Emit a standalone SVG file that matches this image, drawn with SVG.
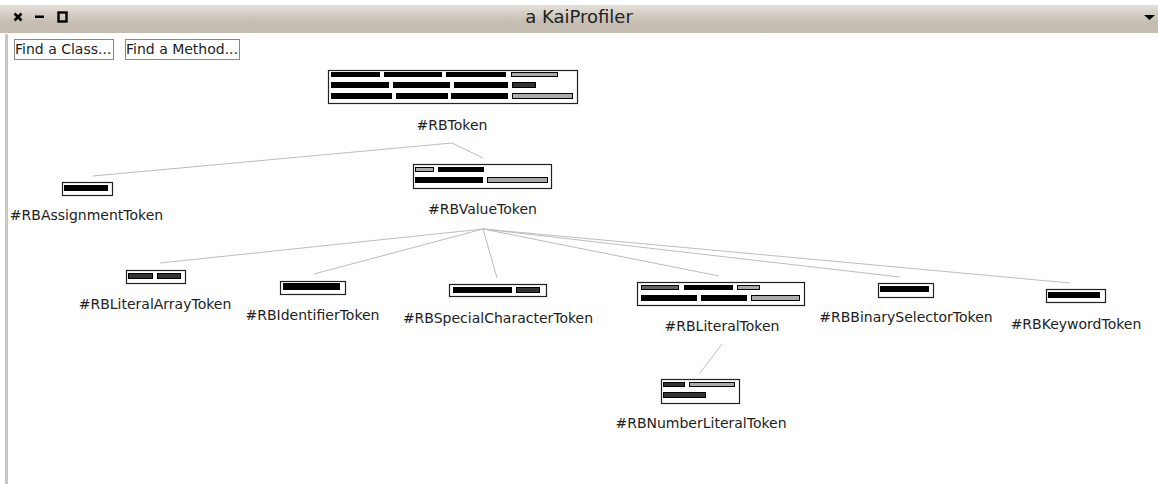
<svg xmlns="http://www.w3.org/2000/svg" width="1158" height="484" viewBox="0 0 1158 484">
  <defs>
    <linearGradient id="titleGrad" x1="0" y1="0" x2="0" y2="1">
      <stop offset="0" stop-color="#e4e0da"/>
      <stop offset="0.6" stop-color="#c6beb2"/>
      <stop offset="1" stop-color="#c4bcb0"/>
    </linearGradient>
  </defs>
  <style>
    .lbl { font-family: "DejaVu Sans", "Noto Sans", sans-serif; font-size: 14px; fill: #222; text-anchor: middle; }
    .btn { fill: #fff; stroke: #888; stroke-width: 1; }
    .btxt { font-family: "DejaVu Sans", "Noto Sans", sans-serif; font-size: 14px; fill: #222; }
    .box { fill: #fff; stroke: #222; stroke-width: 1.2; }
    .blk { fill: #000; stroke: #000; stroke-width: 1; }
    .dk { fill: #333; stroke: #000; stroke-width: 1; }
    .md { fill: #666; stroke: #000; stroke-width: 1; }
    .gr { fill: #aaa; stroke: #000; stroke-width: 1; }
    .edge { stroke: #bdbdbd; stroke-width: 1; fill: none; }
  </style>

  <!-- window frame -->
  <rect x="0" y="0" width="1158" height="484" fill="#fff"/>
  <rect x="0" y="5" width="1158" height="28" fill="url(#titleGrad)"/>
  <rect x="5" y="34" width="3" height="450" fill="#cdc6bb"/>
  <g id="title-controls" fill="#000" stroke="#000">
    <path d="M14.5 13.5 L21.5 20.5 M21.5 13.5 L14.5 20.5" stroke-width="2.6"/>
    <rect x="35" y="15.5" width="9" height="2.5" stroke="none"/>
    <rect x="58.5" y="12.5" width="8" height="9" fill="none" stroke-width="2.4"/>
    <path d="M1144 15 L1155 15 L1149.5 20 Z" stroke="none"/>
  </g>
  <text x="579" y="23" font-family="DejaVu Sans, sans-serif" font-size="18" fill="#222" text-anchor="middle">a KaiProfiler</text>

  <!-- search buttons -->
  <g id="find-class">
    <rect class="btn" x="14.5" y="39.5" width="99" height="20"/>
    <text class="btxt" x="15" y="54">Find a Class...</text>
  </g>
  <g id="find-method">
    <rect class="btn" x="125.5" y="39.5" width="114" height="20"/>
    <text class="btxt" x="126" y="54">Find a Method...</text>
  </g>

  <!-- hierarchy connectors -->
  <g id="connectors">
    <line class="edge" x1="452" y1="143" x2="93" y2="176"/>
    <line class="edge" x1="452" y1="143" x2="483" y2="158"/>
    <line class="edge" x1="483" y1="229" x2="160" y2="263"/>
    <line class="edge" x1="483" y1="229" x2="314" y2="274"/>
    <line class="edge" x1="483" y1="229" x2="497" y2="278"/>
    <line class="edge" x1="483" y1="229" x2="719" y2="276"/>
    <line class="edge" x1="483" y1="229" x2="900" y2="277"/>
    <line class="edge" x1="483" y1="229" x2="1070" y2="283"/>
    <line class="edge" x1="722" y1="344" x2="700" y2="373"/>
  </g>

  <g id="RBToken">
    <rect class="box" x="328.5" y="70.5" width="249" height="33"/>
    <rect class="blk" x="331.5" y="72.5" width="48" height="4"/>
    <rect class="blk" x="384.5" y="72.5" width="57" height="4"/>
    <rect class="blk" x="446.5" y="72.5" width="59" height="4"/>
    <rect class="gr" x="511.5" y="72.5" width="46" height="4"/>
    <rect class="blk" x="331.5" y="82.5" width="57" height="5"/>
    <rect class="blk" x="393.5" y="82.5" width="56" height="5"/>
    <rect class="blk" x="454.5" y="82.5" width="53" height="5"/>
    <rect class="dk" x="512.5" y="82.5" width="23" height="5"/>
    <rect class="blk" x="331.5" y="93.5" width="60" height="5"/>
    <rect class="blk" x="396.5" y="93.5" width="51" height="5"/>
    <rect class="blk" x="451.5" y="93.5" width="56" height="5"/>
    <rect class="gr" x="512.5" y="93.5" width="60" height="5"/>
    <text class="lbl" x="452" y="130">#RBToken</text>
  </g>

  <g id="RBAssignmentToken">
    <rect class="box" x="62.5" y="182.5" width="50" height="13"/>
    <rect class="blk" x="64.5" y="185.5" width="43" height="5"/>
    <text class="lbl" x="86.5" y="220">#RBAssignmentToken</text>
  </g>

  <g id="RBValueToken">
    <rect class="box" x="413.5" y="164.5" width="138" height="24"/>
    <rect class="gr" x="415.5" y="167.5" width="18" height="4"/>
    <rect class="blk" x="438.5" y="167.5" width="45" height="4"/>
    <rect class="blk" x="415.5" y="177.5" width="67" height="5"/>
    <rect class="gr" x="487.5" y="177.5" width="60" height="5"/>
    <text class="lbl" x="482.5" y="214">#RBValueToken</text>
  </g>

  <g id="RBLiteralArrayToken">
    <rect class="box" x="126.5" y="270.5" width="59" height="13"/>
    <rect class="dk" x="128.5" y="273.5" width="24" height="5"/>
    <rect class="dk" x="157.5" y="273.5" width="23" height="5"/>
    <text class="lbl" x="155" y="309">#RBLiteralArrayToken</text>
  </g>

  <g id="RBIdentifierToken">
    <rect class="box" x="280.5" y="281.5" width="65" height="13"/>
    <rect class="blk" x="283.5" y="283.5" width="56" height="6"/>
    <text class="lbl" x="312.5" y="320">#RBIdentifierToken</text>
  </g>

  <g id="RBSpecialCharacterToken">
    <rect class="box" x="449.5" y="284.5" width="97" height="12"/>
    <rect class="blk" x="453.5" y="287.5" width="58" height="5"/>
    <rect class="dk" x="516.5" y="287.5" width="23" height="5"/>
    <text class="lbl" x="498" y="323">#RBSpecialCharacterToken</text>
  </g>

  <g id="RBLiteralToken">
    <rect class="box" x="637.5" y="282.5" width="167" height="23"/>
    <rect class="md" x="641.5" y="285.5" width="37" height="4"/>
    <rect class="blk" x="684.5" y="285.5" width="48" height="4"/>
    <rect class="gr" x="737.5" y="285.5" width="22" height="4"/>
    <rect class="blk" x="641.5" y="295.5" width="55" height="5"/>
    <rect class="blk" x="701.5" y="295.5" width="45" height="5"/>
    <rect class="gr" x="751.5" y="295.5" width="48" height="5"/>
    <text class="lbl" x="722" y="331">#RBLiteralToken</text>
  </g>

  <g id="RBBinarySelectorToken">
    <rect class="box" x="878.5" y="283.5" width="55" height="14"/>
    <rect class="blk" x="880.5" y="286.5" width="48" height="5"/>
    <text class="lbl" x="906" y="322">#RBBinarySelectorToken</text>
  </g>

  <g id="RBKeywordToken">
    <rect class="box" x="1046.5" y="289.5" width="59" height="13"/>
    <rect class="blk" x="1048.5" y="292.5" width="51" height="5"/>
    <text class="lbl" x="1076" y="329">#RBKeywordToken</text>
  </g>

  <g id="RBNumberLiteralToken">
    <rect class="box" x="661.5" y="379.5" width="78" height="24"/>
    <rect class="dk" x="663.5" y="382.5" width="21" height="4"/>
    <rect class="gr" x="689.5" y="382.5" width="45" height="4"/>
    <rect class="dk" x="663.5" y="392.5" width="42" height="5"/>
    <text class="lbl" x="701" y="428">#RBNumberLiteralToken</text>
  </g>
</svg>
